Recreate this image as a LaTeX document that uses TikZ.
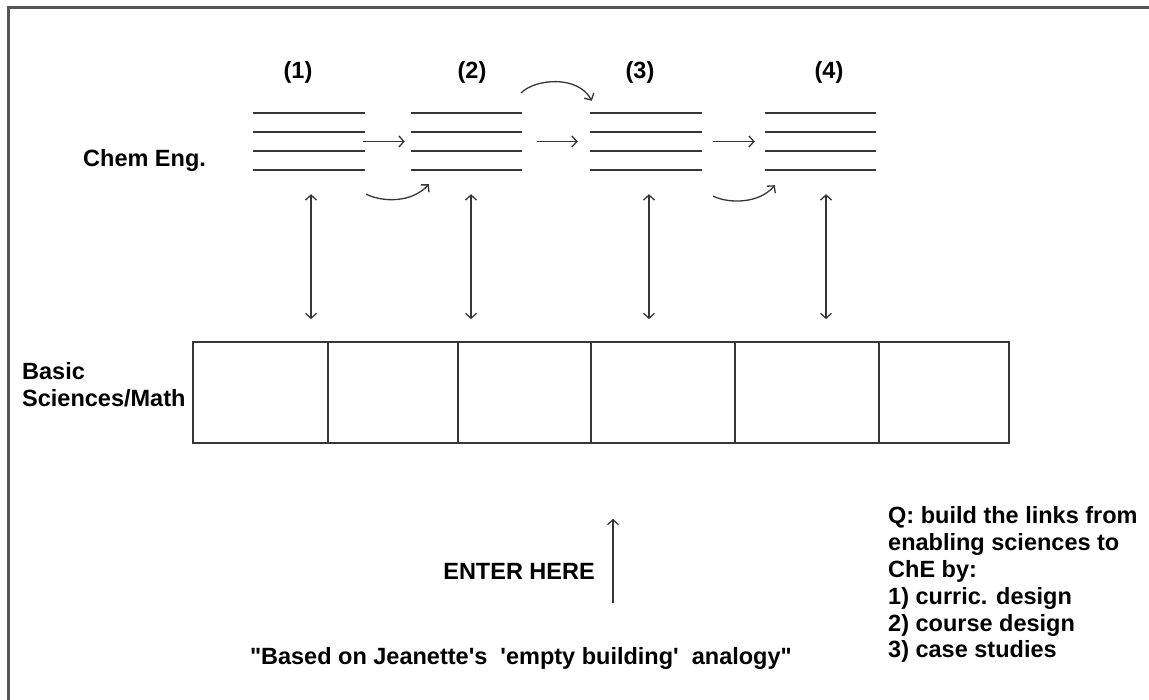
\documentclass[tikz,border=0pt]{standalone}
\usepackage{fontspec}
\setmainfont{Liberation Sans}[Ligatures=TeXOff]
\usetikzlibrary{arrows.meta}
\definecolor{linegray}{RGB}{55,55,55}
\definecolor{framegray}{RGB}{85,85,85}
\begin{document}
\begin{tikzpicture}[x=1pt,y=1pt,
  lbl/.style={font=\fontsize{23.5}{27}\selectfont\bfseries, inner sep=0pt},
  stackbox/.style={minimum width=#1, minimum height=57pt, inner sep=0pt},
  stackline/.style={draw=linegray, line width=2pt},
  cell/.style={draw=linegray, line width=1.6pt, minimum height=101pt, minimum width=#1, inner sep=0pt},
  tipbarb/.tip={Straight Barb[length=5pt,width=11pt]},
  arr/.style={draw=linegray, line width=1.3pt, -tipbarb},
  dbl/.style={draw=linegray, line width=1.3pt, tipbarb-tipbarb},
  frame/.style={draw=framegray, line width=2.5pt}
]
\useasboundingbox (0,0) rectangle (1149,700);
\fill[white] (0,0) rectangle (1149,700);
\draw[frame] (8.5,0) -- (8.5,692.5) -- (1149,692.5);

% stacks of lines
\foreach \n/\x/\w in {s1/309/112, s2/466.5/111, s3/646/112, s4/820.5/111} {
  \node[stackbox=\w pt] (\n) at (\x,558.5) {};
  \foreach \k in {-28.5,-9.5,9.5,28.5}
    \draw[stackline] ([yshift=\k pt]\n.west) -- ([yshift=\k pt]\n.east);
}

% stage labels
\node[lbl, anchor=base] (n1) at (298,621) {(1)};
\node[lbl, anchor=base] (n2) at (472,621) {(2)};
\node[lbl, anchor=base] (n3) at (640,621) {(3)};
\node[lbl, anchor=base] (n4) at (829,621) {(4)};

% straight arrows between stacks
\draw[arr, shorten <=-2pt, shorten >=6pt] (s1.east) -- (s1.east -| s2.west);
\draw[arr, shorten <=15pt, shorten >=12pt] (s2.east) -- (s2.east -| s3.west);
\draw[arr, shorten <=11pt, shorten >=10pt] (s3.east) -- (s3.east -| s4.west);

% curved arrows
\draw[arr] ([shift={(1pt,-24pt)}]s1.south east) .. controls +(16,-8) and +(-17,-19) .. ([shift={(18pt,-14pt)}]s2.south west);
\draw[arr] ([shift={(-1pt,20pt)}]s2.north east) .. controls +(14,14) and +(-14,26) .. ([shift={(2pt,12pt)}]s3.north west);
\draw[arr] ([shift={(11pt,-26pt)}]s3.south east) .. controls +(17,-8) and +(-15,-18) .. ([shift={(10pt,-15pt)}]s4.south west);

% basic sciences row
\node[cell=135pt] (c1) at (260.5,307.5) {};
\node[cell=130pt] (c2) at (393,307.5) {};
\node[cell=133pt] (c3) at (524.5,307.5) {};
\node[cell=144pt] (c4) at (663,307.5) {};
\node[cell=144pt] (c5) at (807,307.5) {};
\node[cell=130pt] (c6) at (944,307.5) {};

% vertical links
\draw[dbl, shorten <=24pt, shorten >=22pt] ([xshift=2pt]s1.south) -- ([xshift=2pt]s1.south |- c1.north);
\draw[dbl, shorten <=24pt, shorten >=22pt] ([xshift=4.5pt]s2.south) -- ([xshift=4.5pt]s2.south |- c3.north);
\draw[dbl, shorten <=24pt, shorten >=22pt] ([xshift=3pt]s3.south) -- ([xshift=3pt]s3.south |- c4.north);
\draw[dbl, shorten <=24pt, shorten >=22pt] ([xshift=5.5pt]s4.south) -- ([xshift=5.5pt]s4.south |- c5.north);

% side labels
\node[lbl, anchor=base west] (chem) at (83,533) {Chem Eng.};
\node[lbl, anchor=base west] (basic) at (22,320) {Basic};
\node[lbl, anchor=base west] (scimath) at (22,293) {Sciences/Math};

% enter
\node[lbl, anchor=base east] (enter) at (595,120) {ENTER HERE};
\coordinate (enterfoot) at (613,97);
\draw[arr, shorten >=75pt] (enterfoot) -- (enterfoot |- c4.south);

\node[lbl, anchor=base east] (based) at (792,35) {"Based on Jeanette's\ \ 'empty building'\ \ analogy"};

% question block
\node[lbl, anchor=base west] (q1) at (888,176) {Q: build the links from};
\node[lbl, anchor=base west] (q2) at (888,149) {enabling sciences to};
\node[lbl, anchor=base west] (q3) at (888,122) {ChE by:};
\node[lbl, anchor=base west] (q4) at (888,95) {1) curric. design};
\node[lbl, anchor=base west] (q5) at (888,68) {2) course design};
\node[lbl, anchor=base west] (q6) at (888,42) {3) case studies};
\end{tikzpicture}
\end{document}
